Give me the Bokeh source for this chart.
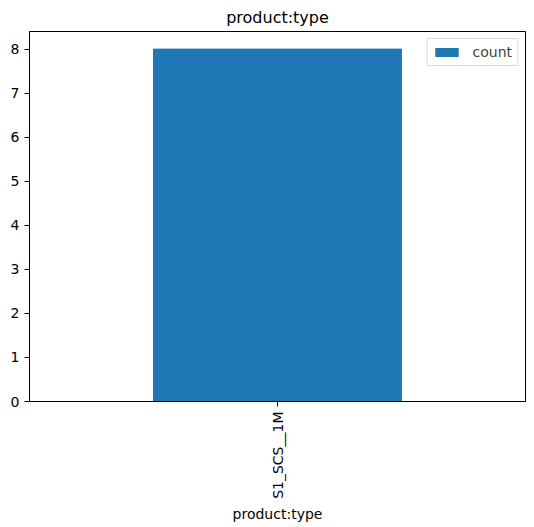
import math
from bokeh.plotting import figure
from bokeh.models import FixedTicker, Range1d, Legend, LegendItem, ColumnDataSource
from bokeh.embed import file_html
from bokeh.resources import INLINE

categories = ["S1_SCS__1M"]
counts = [8]
yticks = [0, 1, 2, 3, 4, 5, 6, 7, 8]

FONT = "DejaVu Sans"
src = ColumnDataSource(dict(x=list(range(len(categories))), top=counts))

p = figure(width=534, height=511, output_backend="svg", toolbar_location=None,
           x_range=Range1d(-0.5, len(categories) - 0.5), y_range=Range1d(0, max(counts) * 1.05),
           frame_width=496, frame_height=370,
           min_border_left=29, min_border_right=9, min_border_top=23, min_border_bottom=118)

r = p.vbar(x="x", top="top", width=0.5, source=src, color="#1f77b4")

p.title.text = "product:type"
p.title.align = "center"
p.title.text_font = FONT
p.title.text_font_size = "16px"
p.title.text_font_style = "normal"
p.title.text_color = "black"

p.xgrid.visible = False
p.ygrid.visible = False
p.outline_line_color = "black"
p.outline_line_width = 1

p.xaxis.ticker = FixedTicker(ticks=list(range(len(categories))))
p.xaxis.major_label_overrides = {i: c for i, c in enumerate(categories)}
p.xaxis.major_label_orientation = math.pi / 2
p.xaxis.axis_label = "product:type"
p.yaxis.ticker = FixedTicker(ticks=yticks)

for ax in (p.xaxis[0], p.yaxis[0]):
    ax.axis_line_color = "black"
    ax.major_tick_line_color = "black"
    ax.major_tick_out = 5
    ax.major_tick_in = 0
    ax.minor_tick_line_color = None
    ax.major_label_text_font = FONT
    ax.major_label_text_font_size = "14px"
    ax.major_label_text_color = "black"
    ax.axis_label_text_font = FONT
    ax.axis_label_text_font_size = "14px"
    ax.axis_label_text_font_style = "normal"
    ax.axis_label_text_color = "black"
    ax.axis_label_standoff = 4

legend = Legend(items=[LegendItem(label="count", renderers=[r])], location="top_right")
legend.label_text_font = FONT
legend.label_text_font_size = "14px"
legend.border_line_color = "#d9d9d9"
legend.border_line_alpha = 1
legend.glyph_width = 28
legend.glyph_height = 10
legend.padding = 5
legend.margin = 7
legend.spacing = 0
legend.label_standoff = 12
p.add_layout(legend)

open("out.html", "w").write(file_html(p, INLINE))
